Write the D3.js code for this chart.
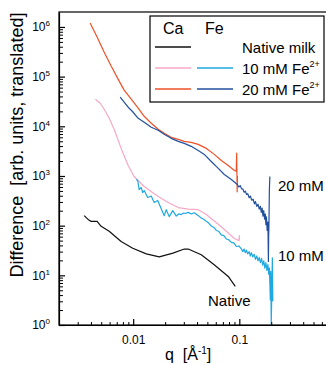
<!DOCTYPE html>
<html>
<head>
<meta charset="utf-8">
<script src="https://cdn.jsdelivr.net/npm/d3@7"></script>
<style>
  body { margin: 0; background: #fff; }
  svg text { font-family: "Liberation Sans", Arial, sans-serif; fill: #000; }
</style>
</head>
<body>
<svg id="chart" width="326" height="365"></svg>
<script>
// [q, difference]
const nativeCa = [[0.00345,159],[0.00385,128],[0.00402,122],[0.00457,122],[0.00499,97],[0.00594,77],[0.0077,48],[0.0099,35],[0.0133,27],[0.0176,23.6],[0.0237,28],[0.0303,33.8],[0.033,33.8],[0.0438,26],[0.058,16.3],[0.0787,9.5],[0.0916,6.0]];

const ca10 = [[0.00441,35100],[0.00489,29150],[0.00533,22000],[0.00594,14500],[0.00662,8700],[0.0077,3590],[0.00897,1630],[0.0102,977],[0.0127,614],[0.0172,385],[0.0214,292],[0.0266,231],[0.033,215],[0.041,210],[0.0489,167],[0.0677,95],[0.0898,55],[0.0995,50],[0.1,63],[0.1005,52]];

const ca20 = [[0.00393,1200000],[0.00457,628000],[0.00532,313000],[0.0062,163000],[0.00721,89000],[0.00822,53400],[0.00958,35100],[0.01115,23100],[0.0127,15900],[0.0148,11500],[0.0172,8700],[0.0196,7220],[0.0228,6000],[0.0266,5460],[0.0303,4970],[0.0352,4750],[0.041,4330],[0.0489,3590],[0.0581,2720],[0.0677,2050],[0.0787,1630],[0.0898,1290],[0.0935,1250],[0.0945,2900],[0.095,1100],[0.0955,480],[0.096,1000]];

const fe10 = [[0.01067,850],[0.01103,811],[0.01139,533],[0.0119,586],[0.01229,464],[0.0127,509],[0.0137,368],[0.01478,394],[0.01578,292],[0.01703,320],[0.01837,220],[0.01961,159],[0.02048,210],[0.02186,152],[0.02359,201],[0.02545,156],[0.0268,172],[0.02837,167],[0.03,180],[0.03094,176],[0.03303,185],[0.03526,172],[0.03763,182],[0.04106,159],[0.04381,142],[0.0462,134],[0.04884,122],[0.0515,113],[0.05443,98],[0.0575,92],[0.06067,80],[0.064,77],[0.06763,65],[0.0715,63],[0.07541,54],[0.0795,52],[0.08406,46],[0.0888,45],[0.0937,38],[0.099,39],[0.1044,34],[0.108,30],[0.111,34],[0.114,28.5],[0.117,32],[0.12,27],[0.124,30],[0.127,24.5],[0.13,28.5],[0.134,23.5],[0.138,26.5],[0.142,21],[0.146,24.5],[0.15,19.5],[0.154,23],[0.158,18],[0.162,22],[0.166,16],[0.17,19.5],[0.174,14],[0.178,18],[0.182,12.5],[0.186,16.5],[0.189,10.5],[0.192,14],[0.194,7],[0.196,3.2],[0.198,12],[0.2,1.05],[0.2026,5],[0.2048,22.6],[0.207,3]];

const fe20 = [[0.00754,38500],[0.00822,30500],[0.00897,24200],[0.0098,20100],[0.01115,14500],[0.0127,12100],[0.0148,9550],[0.0172,8300],[0.0196,6890],[0.0228,5720],[0.0266,4970],[0.0303,4540],[0.0352,3950],[0.041,3270],[0.0468,2720],[0.0544,1960],[0.0634,1420],[0.0722,1070],[0.0841,850],[0.0957,673],[0.099,600],[0.102,640],[0.105,555],[0.108,545],[0.111,470],[0.114,495],[0.117,425],[0.12,440],[0.124,365],[0.127,395],[0.131,325],[0.135,340],[0.139,275],[0.142,305],[0.146,245],[0.15,270],[0.154,215],[0.158,245],[0.161,185],[0.164,225],[0.167,155],[0.17,200],[0.173,135],[0.176,170],[0.178,105],[0.18,150],[0.183,80],[0.186,118],[0.188,19],[0.189,60],[0.19,90],[0.192,530],[0.194,980]];

const xMajor = [0.01, 0.1];
const xTickLabels = ["0.01", "0.1"];
const xMinor = [0.002,0.003,0.004,0.005,0.006,0.007,0.008,0.009,0.02,0.03,0.04,0.05,0.06,0.07,0.08,0.09,0.2,0.3,0.4,0.5,0.6,0.7];
const yMajor = [1,10,100,1e3,1e4,1e5,1e6];
const yExp = ["0","1","2","3","4","5","6"];
const yMinor = [];
yMajor.forEach(m => { for (let k = 2; k <= 9; k++) if (m * k < 2e6) yMinor.push(m * k); });

const series = [
  { data: nativeCa, color: "#111111" },
  { data: ca10, color: "#f6a8c6" },
  { data: ca20, color: "#ee5028" },
  { data: fe10, color: "#20a8e0" },
  { data: fe20, color: "#22509f" }
];

const svg = d3.select("#chart");
const padL = 59, padT = 12, padB = 325, padR = 329;

const x = d3.scaleLog().domain([0.002, 0.7]).range([padL, padR]);
const y = d3.scaleLog().domain([1, 2e6]).range([padB, padT]);

// frame (right side runs off the picture)
svg.append("rect")
  .attr("x", padL).attr("y", padT)
  .attr("width", padR - padL).attr("height", padB - padT)
  .attr("fill", "none").attr("stroke", "#000").attr("stroke-width", 1.2);

const line = d3.line().x(d => x(d[0])).y(d => y(d[1]));

svg.append("g").selectAll("path")
  .data(series)
  .enter()
  .append("path")
  .attr("d", d => line(d.data))
  .attr("fill", "none")
  .attr("stroke", d => d.color)
  .attr("stroke-width", 1.2)
  .attr("stroke-linejoin", "round");

// x axis
svg.append("g")
  .attr("transform", "translate(0," + padB + ")")
  .call(d3.axisBottom(x).tickValues(xMinor).tickSizeInner(-3).tickSizeOuter(0).tickFormat(() => ""))
  .call(g => g.select(".domain").remove());
const xa = svg.append("g")
  .attr("transform", "translate(0," + padB + ")")
  .call(d3.axisBottom(x).tickValues(xMajor).tickSizeInner(-6).tickSizeOuter(0).tickPadding(10)
    .tickFormat((d, i) => xTickLabels[i]));
xa.selectAll("text").attr("font-size", 12);
xa.selectAll("line, path").attr("stroke-width", 1.2);

// y axis
svg.append("g")
  .attr("transform", "translate(" + padL + ",0)")
  .call(d3.axisLeft(y).tickValues(yMinor).tickSizeInner(-4).tickSizeOuter(0).tickFormat(() => ""))
  .call(g => g.select(".domain").remove());
const ya = svg.append("g")
  .attr("transform", "translate(" + padL + ",0)")
  .call(d3.axisLeft(y).tickValues(yMajor).tickSizeInner(-6).tickSizeOuter(0).tickPadding(9).tickFormat(() => ""));
ya.selectAll("line, path").attr("stroke-width", 1.2);
ya.selectAll(".tick text").attr("font-size", 12).each(function(d, i) {
  const t = d3.select(this);
  t.append("tspan").text("10");
  t.append("tspan").attr("dy", -5).attr("font-size", 8).text(yExp[i]);
});

// axis titles
svg.append("text")
  .attr("transform", "translate(23," + 145 + ") rotate(-90)")
  .attr("text-anchor", "middle")
  .attr("font-size", 18)
  .attr("xml:space", "preserve")
  .text("Difference  [arb. units, translated]");

const xt = svg.append("text")
  .attr("x", 165).attr("y", 360)
  .attr("font-size", 16)
  .attr("xml:space", "preserve");
xt.append("tspan").text("q  [Å");
xt.append("tspan").attr("dy", -6).attr("font-size", 10).text("-1");
xt.append("tspan").attr("dy", 6).text("]");

// curve labels
svg.append("text").attr("x", 278).attr("y", 191).attr("font-size", 15).text("20 mM");
svg.append("text").attr("x", 278).attr("y", 261).attr("font-size", 15).text("10 mM");
svg.append("text").attr("x", 208).attr("y", 306).attr("font-size", 15).text("Native");

// legend
const lg = svg.append("g");
lg.append("rect")
  .attr("x", 150).attr("y", 16).attr("width", 174).attr("height", 86)
  .attr("fill", "#fff").attr("stroke", "#000").attr("stroke-width", 1.2);
lg.append("text").attr("x", 163).attr("y", 34).attr("font-size", 16).text("Ca");
lg.append("text").attr("x", 205).attr("y", 34).attr("font-size", 16).text("Fe");

const legendRows = [
  { label: "Native milk", sup: "", ca: series[0].color, fe: null, y: 47 },
  { label: "10 mM Fe", sup: "2+", ca: series[1].color, fe: series[3].color, y: 68 },
  { label: "20 mM Fe", sup: "2+", ca: series[2].color, fe: series[4].color, y: 89 }
];
legendRows.forEach(r => {
  lg.append("line").attr("x1", 155).attr("x2", 191).attr("y1", r.y).attr("y2", r.y)
    .attr("stroke", r.ca).attr("stroke-width", 1.5);
  if (r.fe) lg.append("line").attr("x1", 197).attr("x2", 233).attr("y1", r.y).attr("y2", r.y)
    .attr("stroke", r.fe).attr("stroke-width", 1.5);
  const t = lg.append("text").attr("x", 242).attr("y", r.y + 6).attr("font-size", 15);
  t.append("tspan").text(r.label);
  if (r.sup) t.append("tspan").attr("dy", -7).attr("font-size", 9).text(r.sup);
});
</script>
</body>
</html>
